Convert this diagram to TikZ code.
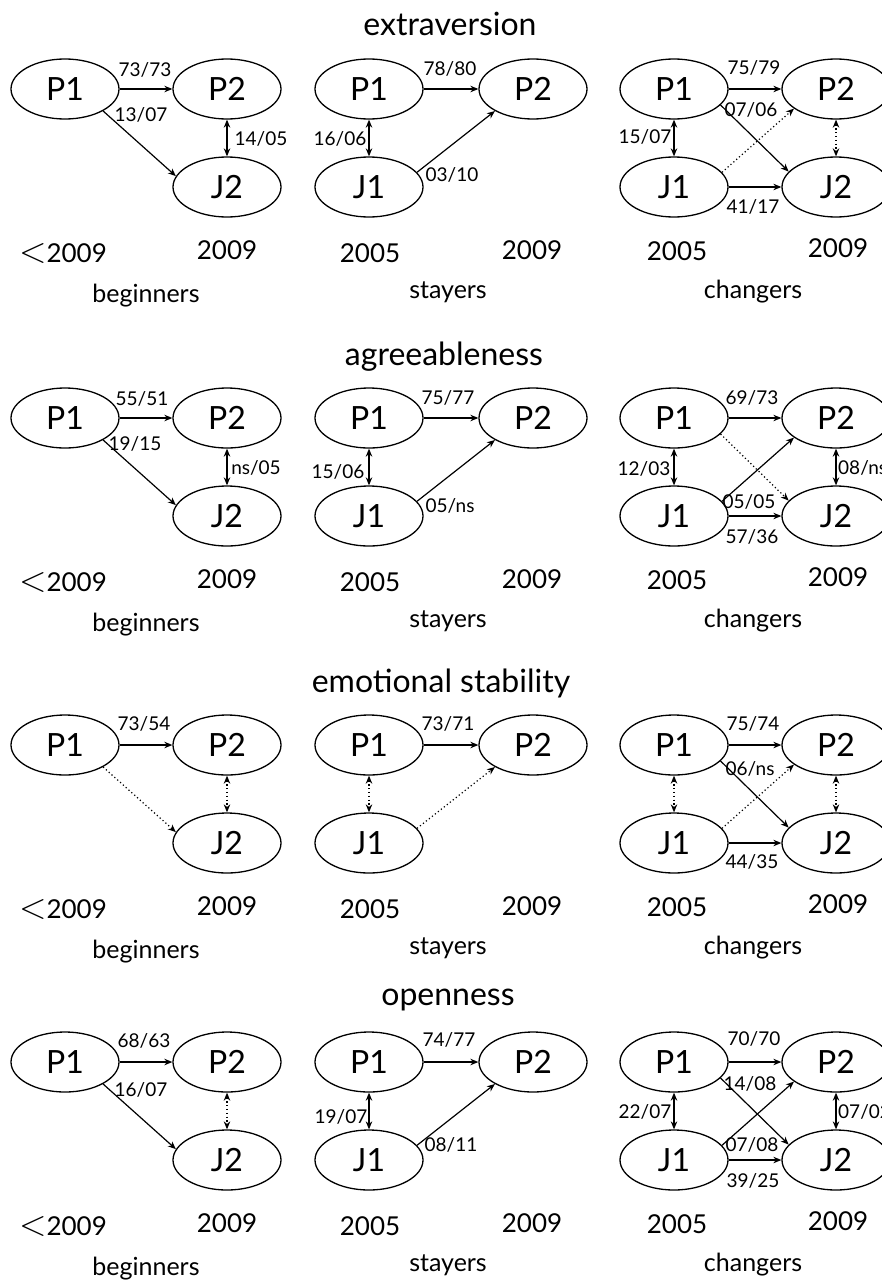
\documentclass[tikz,border=0pt]{standalone}
\usepackage{fontspec}
\setmainfont{Lato}
\usetikzlibrary{arrows.meta,shapes.geometric}
\newcommand\lessthan{\scalebox{1.45}{$<$}}
\begin{document}
\begin{tikzpicture}[x=1pt,y=-1pt,
  ell/.style={draw, ellipse, minimum width=108pt, minimum height=60pt, inner sep=0pt, line width=1.3pt, font=\fontsize{32}{32}\selectfont},
  one/.style={-{Stealth[length=8pt,width=6.5pt]}, line width=1.2pt},
  two/.style={{Stealth[length=8pt,width=6.5pt]}-{Stealth[length=8pt,width=6.5pt]}, line width=1.2pt},
  dotln/.style={dash pattern=on 1.2pt off 2.6pt},
  lab/.style={font=\fontsize{19}{19}\selectfont, inner sep=0pt},
  labw/.style={lab, anchor=west},
  yr/.style={font=\fontsize{26}{26}\selectfont, inner sep=0pt, anchor=base},
  grp/.style={font=\fontsize{25}{25}\selectfont, inner sep=0pt, anchor=base},
  ttl/.style={font=\fontsize{32}{32}\selectfont, inner sep=0pt, anchor=base}]
\useasboundingbox (0,0) rectangle (882,1282);
\fill[white] (0,0) rectangle (882,1282);

% ================= Row A: extraversion =================
\begin{scope}
\node[ttl] (At) at (450,35) {extraversion};
% beginners
\node[ell] (AbP1) at (65,89) {P1};
\node[ell] (AbP2) at (227,89) {P2};
\node[ell] (AbJ2) at (227,187) {J2};
\draw[one] (AbP1.east) -- (AbP2.west);
\draw[one] (AbP1.-30) -- (AbJ2.168);
\draw[two] (AbP2.south) -- (AbJ2.north);
\node[lab] (AbL1) at (145,69.5) {73/73};
\node[lab] (AbL2) at (141,115) {13/07};
\node[lab] (AbL3) at (261,138.5) {14/05};
\node[yr] (AbY1) at (63,262) {\lessthan2009};
\node[yr] (AbY2) at (227,259) {2009};
\node[grp] (AbG) at (146,302) {beginners};
% stayers
\node[ell] (AsP1) at (369,89) {P1};
\node[ell] (AsP2) at (533,89) {P2};
\node[ell] (AsJ1) at (369,187) {J1};
\draw[one] (AsP1.east) -- (AsP2.west);
\draw[two] (AsP1.south) -- (AsJ1.north);
\draw[one] (AsJ1.17) -- (AsP2.210);
\node[lab] (AsL1) at (450,68.5) {78/80};
\node[lab] (AsL2) at (340,139) {16/06};
\node[lab] (AsL3) at (452,175) {03/10};
\node[yr] (AsY1) at (370,262) {2005};
\node[yr] (AsY2) at (532,259) {2009};
\node[grp] (AsG) at (448,298) {stayers};
% changers
\node[ell] (AcP1) at (674,89) {P1};
\node[ell] (AcP2) at (836,89) {P2};
\node[ell] (AcJ1) at (674,187) {J1};
\node[ell] (AcJ2) at (836,187) {J2};
\draw[one] (AcP1.east) -- (AcP2.west);
\draw[one] (AcP1.-19) -- (AcJ2.162);
\draw[one,dotln] (AcJ1.17) -- (AcP2.205);
\draw[two] (AcP1.south) -- (AcJ1.north);
\draw[two,dotln] (AcP2.south) -- (AcJ2.north);
\draw[one] (AcJ1.east) -- (AcJ2.west);
\node[lab] (AcL1) at (754,68) {75/79};
\node[lab] (AcL2) at (751,110) {07/06};
\node[lab] (AcL3) at (645,137) {15/07};
\node[lab] (AcL4) at (753,207) {41/17};
\node[yr] (AcY1) at (677,260) {2005};
\node[yr] (AcY2) at (838,257) {2009};
\node[grp] (AcG) at (753,298) {changers};
\end{scope}

% ================= Row B: agreeableness =================
\begin{scope}[shift={(0,329)}]
\node[ttl] (Bt) at (444,36) {agreeableness};
% beginners
\node[ell] (BbP1) at (65,89) {P1};
\node[ell] (BbP2) at (227,89) {P2};
\node[ell] (BbJ2) at (227,187) {J2};
\draw[one] (BbP1.east) -- (BbP2.west);
\draw[one] (BbP1.-30) -- (BbJ2.168);
\draw[two] (BbP2.south) -- (BbJ2.north);
\node[lab] (BbL1) at (142,69.5) {55/51};
\node[lab] (BbL2) at (135,114.5) {19/15};
\node[lab] (BbL3) at (256,139) {ns/05};
\node[yr] (BbY1) at (63,262) {\lessthan2009};
\node[yr] (BbY2) at (227,259) {2009};
\node[grp] (BbG) at (146,302) {beginners};
% stayers
\node[ell] (BsP1) at (369,89) {P1};
\node[ell] (BsP2) at (533,89) {P2};
\node[ell] (BsJ1) at (369,187) {J1};
\draw[one] (BsP1.east) -- (BsP2.west);
\draw[two] (BsP1.south) -- (BsJ1.north);
\draw[one] (BsJ1.17) -- (BsP2.210);
\node[lab] (BsL1) at (448,69) {75/77};
\node[lab] (BsL2) at (338,142.5) {15/06};
\node[lab] (BsL3) at (450,177) {05/ns};
\node[yr] (BsY1) at (370,262) {2005};
\node[yr] (BsY2) at (532,259) {2009};
\node[grp] (BsG) at (448,298) {stayers};
% changers
\node[ell] (BcP1) at (674,89) {P1};
\node[ell] (BcP2) at (836,89) {P2};
\node[ell] (BcJ1) at (674,187) {J1};
\node[ell] (BcJ2) at (836,187) {J2};
\draw[one] (BcP1.east) -- (BcP2.west);
\draw[one,dotln] (BcP1.-19) -- (BcJ2.162);
\draw[one] (BcJ1.17) -- (BcP2.205);
\draw[two] (BcP1.south) -- (BcJ1.north);
\draw[two] (BcP2.south) -- (BcJ2.north);
\draw[one] (BcJ1.east) -- (BcJ2.west);
\node[lab] (BcL1) at (752,69) {69/73};
\node[lab] (BcL2) at (644,139.5) {12/03};
\node[labw] (BcL3) at (838,139) {08/ns};
\node[lab] (BcL4) at (749,172.5) {05/05};
\node[lab] (BcL5) at (752,207.5) {57/36};
\node[yr] (BcY1) at (677,260) {2005};
\node[yr] (BcY2) at (838,257) {2009};
\node[grp] (BcG) at (753,298) {changers};
\end{scope}

% ================= Row C: emotional stability =================
\begin{scope}[shift={(0,656)}]
\node[ttl] (Ct) at (441,36) {emotional stability};
% beginners
\node[ell] (CbP1) at (65,89) {P1};
\node[ell] (CbP2) at (227,89) {P2};
\node[ell] (CbJ2) at (227,187) {J2};
\draw[one] (CbP1.east) -- (CbP2.west);
\draw[one,dotln] (CbP1.-30) -- (CbJ2.168);
\draw[two,dotln] (CbP2.south) -- (CbJ2.north);
\node[lab] (CbL1) at (144,68) {73/54};
\node[yr] (CbY1) at (63,262) {\lessthan2009};
\node[yr] (CbY2) at (227,259) {2009};
\node[grp] (CbG) at (146,302) {beginners};
% stayers
\node[ell] (CsP1) at (369,89) {P1};
\node[ell] (CsP2) at (533,89) {P2};
\node[ell] (CsJ1) at (369,187) {J1};
\draw[one] (CsP1.east) -- (CsP2.west);
\draw[two,dotln] (CsP1.south) -- (CsJ1.north);
\draw[one,dotln] (CsJ1.17) -- (CsP2.210);
\node[lab] (CsL1) at (448,68) {73/71};
\node[yr] (CsY1) at (370,262) {2005};
\node[yr] (CsY2) at (532,259) {2009};
\node[grp] (CsG) at (448,298) {stayers};
% changers
\node[ell] (CcP1) at (674,89) {P1};
\node[ell] (CcP2) at (836,89) {P2};
\node[ell] (CcJ1) at (674,187) {J1};
\node[ell] (CcJ2) at (836,187) {J2};
\draw[one] (CcP1.east) -- (CcP2.west);
\draw[one] (CcP1.-19) -- (CcJ2.162);
\draw[one,dotln] (CcJ1.17) -- (CcP2.205);
\draw[two,dotln] (CcP1.south) -- (CcJ1.north);
\draw[two,dotln] (CcP2.south) -- (CcJ2.north);
\draw[one] (CcJ1.east) -- (CcJ2.west);
\node[lab] (CcL1) at (753,68) {75/74};
\node[lab] (CcL2) at (750,113) {06/ns};
\node[lab] (CcL3) at (752,206) {44/35};
\node[yr] (CcY1) at (677,260) {2005};
\node[yr] (CcY2) at (838,257) {2009};
\node[grp] (CcG) at (753,298) {changers};
\end{scope}

% ================= Row D: openness =================
\begin{scope}[shift={(0,973)}]
\node[ttl] (Dt) at (448,32) {openness};
% beginners
\node[ell] (DbP1) at (65,89) {P1};
\node[ell] (DbP2) at (227,89) {P2};
\node[ell] (DbJ2) at (227,187) {J2};
\draw[one] (DbP1.east) -- (DbP2.west);
\draw[one] (DbP1.-30) -- (DbJ2.168);
\draw[two,dotln] (DbP2.south) -- (DbJ2.north);
\node[lab] (DbL1) at (144,68) {68/63};
\node[lab] (DbL2) at (141,117) {16/07};
\node[yr] (DbY1) at (63,262) {\lessthan2009};
\node[yr] (DbY2) at (227,259) {2009};
\node[grp] (DbG) at (146,302) {beginners};
% stayers
\node[ell] (DsP1) at (369,89) {P1};
\node[ell] (DsP2) at (533,89) {P2};
\node[ell] (DsJ1) at (369,187) {J1};
\draw[one] (DsP1.east) -- (DsP2.west);
\draw[two] (DsP1.south) -- (DsJ1.north);
\draw[one] (DsJ1.17) -- (DsP2.210);
\node[lab] (DsL1) at (449,67) {74/77};
\node[lab] (DsL2) at (341,143.5) {19/07};
\node[lab] (DsL3) at (451,172) {08/11};
\node[yr] (DsY1) at (370,262) {2005};
\node[yr] (DsY2) at (532,259) {2009};
\node[grp] (DsG) at (448,298) {stayers};
% changers
\node[ell] (DcP1) at (674,89) {P1};
\node[ell] (DcP2) at (836,89) {P2};
\node[ell] (DcJ1) at (674,187) {J1};
\node[ell] (DcJ2) at (836,187) {J2};
\draw[one] (DcP1.east) -- (DcP2.west);
\draw[one] (DcP1.-19) -- (DcJ2.162);
\draw[one] (DcJ1.17) -- (DcP2.205);
\draw[two] (DcP1.south) -- (DcJ1.north);
\draw[two] (DcP2.south) -- (DcJ2.north);
\draw[one] (DcJ1.east) -- (DcJ2.west);
\node[lab] (DcL1) at (754,65.5) {70/70};
\node[lab] (DcL2) at (750,110.5) {14/08};
\node[lab] (DcL3) at (645,138.5) {22/07};
\node[labw] (DcL4) at (838,138.5) {07/02};
\node[lab] (DcL5) at (752,172) {07/08};
\node[lab] (DcL6) at (753,208) {39/25};
\node[yr] (DcY1) at (677,260) {2005};
\node[yr] (DcY2) at (838,257) {2009};
\node[grp] (DcG) at (753,298) {changers};
\end{scope}
\end{tikzpicture}
\end{document}
